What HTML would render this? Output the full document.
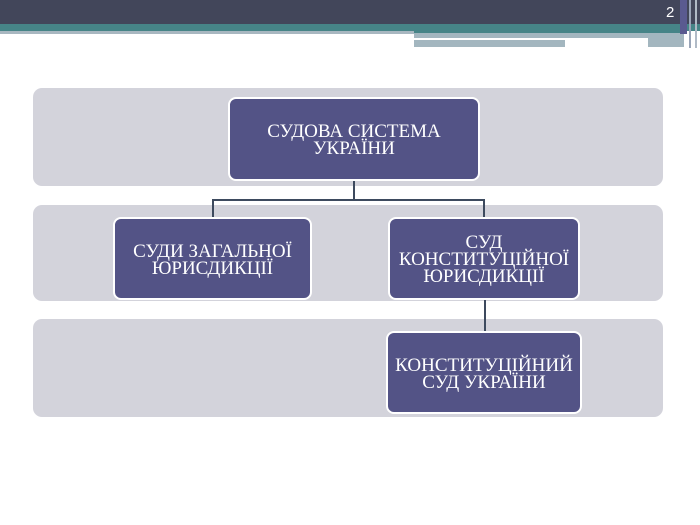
<!DOCTYPE html>
<html><head><meta charset="utf-8"><style>
body{margin:0;width:700px;height:525px;background:#fff;position:relative;overflow:hidden;font-family:"Liberation Serif",serif}
div{position:absolute;box-sizing:border-box}
.band{background:#d3d3db;border-radius:9px;left:33px;width:630px}
.box{background:#535386;border:2px solid #fff;border-radius:8px;color:#fff;display:flex;align-items:center;justify-content:center;text-align:center;font-size:19px;line-height:17px;padding-top:2px}
.l{background:#3d4a5e}
</style></head><body>
<div style="left:0;top:0;width:700px;height:24px;background:#42465a"></div>
<div style="left:0;top:24px;width:700px;height:7px;background:#468487"></div>
<div style="left:0;top:31px;width:414px;height:3px;background:#a8b7c0"></div>
<div style="left:414px;top:31px;width:270px;height:2px;background:#468487"></div>
<div style="left:414px;top:33px;width:270px;height:5px;background:#a3b6bf"></div>
<div style="left:648px;top:38px;width:36px;height:9px;background:#a3b6bf"></div>
<div style="left:414px;top:40px;width:151px;height:7px;background:#a3b6bf"></div>
<div style="left:680px;top:0;width:7px;height:34px;background:#5a5a90"></div>
<div style="left:689px;top:0;width:2px;height:48px;background:#9aa5b8"></div>
<div style="left:695px;top:0;width:2px;height:48px;background:#b0bac6"></div>
<div style="left:666px;top:4px;color:#fff;font-family:'Liberation Sans',sans-serif;font-size:15px">2</div>
<div class="band" style="top:88px;height:98px"></div>
<div class="band" style="top:205px;height:96px"></div>
<div class="band" style="top:319px;height:98px"></div>
<div class="l" style="left:353px;top:180px;width:2px;height:21px"></div>
<div class="l" style="left:212px;top:199px;width:273px;height:2px"></div>
<div class="l" style="left:212px;top:199px;width:2px;height:20px"></div>
<div class="l" style="left:483px;top:199px;width:2px;height:20px"></div>
<div class="l" style="left:484px;top:298px;width:2px;height:35px"></div>
<div class="box" style="left:228px;top:97px;width:252px;height:84px">СУДОВА СИСТЕМА<br>УКРАЇНИ</div>
<div class="box" style="left:113px;top:217px;width:199px;height:83px">СУДИ ЗАГАЛЬНОЇ<br>ЮРИСДИКЦІЇ</div>
<div class="box" style="left:388px;top:217px;width:192px;height:83px">СУД<br>КОНСТИТУЦІЙНОЇ<br>ЮРИСДИКЦІЇ</div>
<div class="box" style="left:386px;top:331px;width:196px;height:83px">КОНСТИТУЦІЙНИЙ<br>СУД УКРАЇНИ</div>
</body></html>
